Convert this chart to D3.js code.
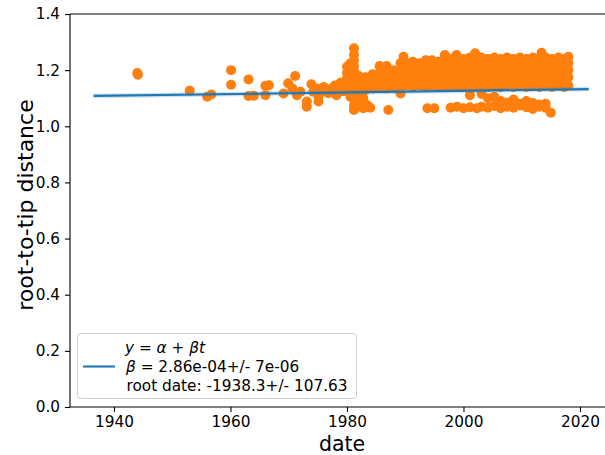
<!DOCTYPE html>
<html>
<head>
<meta charset="utf-8">
<script src="https://cdn.jsdelivr.net/npm/d3@7"></script>
<style>
  html, body { margin: 0; background: #fff; overflow: hidden; }
  svg { display: block; }
  text { font-family: "DejaVu Sans", sans-serif; fill: #000; }
</style>
</head>
<body>
<script>
// root-to-tip regression

// isolated tips before the 1980 burst  [date, distance]
var earlyTips = [
  [1944.0, 1.190], [1944.1, 1.184], [1953.0, 1.127], [1956.0, 1.105], [1956.7, 1.113],
  [1960.1, 1.200], [1960.1, 1.148], [1963.1, 1.167], [1963.1, 1.108], [1964.0, 1.109],
  [1966.0, 1.144], [1966.6, 1.146], [1966.0, 1.111], [1969.1, 1.117], [1969.9, 1.153],
  [1970.6, 1.135], [1971.1, 1.179], [1971.4, 1.111], [1972.0, 1.123], [1973.1, 1.070],
  [1973.1, 1.088], [1973.9, 1.150], [1974.2, 1.123], [1974.8, 1.135], [1975.1, 1.088],
  [1975.1, 1.105], [1975.6, 1.125], [1976.0, 1.140], [1976.3, 1.128], [1976.8, 1.118],
  [1977.0, 1.131], [1977.6, 1.136], [1977.9, 1.145], [1978.2, 1.111], [1978.6, 1.140],
  [1978.9, 1.155], [1979.2, 1.142], [1979.4, 1.125]
];

// tips sampled in columns  [date, [distances]]
var columnTips = [
  [1980.0, [1.130, 1.150, 1.170, 1.190, 1.212]],
  [1980.6, [1.105, 1.145, 1.224]],
  [1981.2, [1.058, 1.075, 1.095, 1.115, 1.135, 1.155, 1.175, 1.195, 1.215, 1.235, 1.255, 1.278]],
  [1981.8, [1.070, 1.090, 1.140, 1.160]],
  [1982.0, [1.135, 1.160, 1.180]],
  [1982.5, [1.115]],
  [1982.8, [1.064, 1.100]],
  [1983.2, [1.130, 1.150, 1.175]],
  [1983.5, [1.075]],
  [1984.0, [1.066]],
  [1984.4, [1.135, 1.160, 1.185]],
  [1985.6, [1.140, 1.165, 1.190, 1.215]],
  [1986.8, [1.135, 1.160, 1.185, 1.215]],
  [1987.1, [1.058]],
  [1988.0, [1.140, 1.165, 1.190, 1.200]],
  [1989.2, [1.117, 1.140, 1.170, 1.195, 1.225]],
  [1989.7, [1.248]],
  [1990.2, [1.145, 1.170, 1.190, 1.205, 1.224]],
  [1991.3, [1.140, 1.165, 1.188, 1.210, 1.230]],
  [1992.4, [1.145, 1.175, 1.200, 1.225]],
  [1993.5, [1.140, 1.163, 1.190, 1.212, 1.235]],
  [1993.8, [1.064]],
  [1994.6, [1.145, 1.170, 1.190, 1.210, 1.235]],
  [1995.0, [1.064]],
  [1995.7, [1.140, 1.160, 1.180, 1.205, 1.230]],
  [1996.8, [1.145, 1.170, 1.195, 1.225, 1.254]],
  [1997.8, [1.066]],
  [1997.9, [1.140, 1.165, 1.190, 1.215, 1.240]],
  [1998.8, [1.145, 1.175, 1.200, 1.230, 1.254]],
  [1998.9, [1.070]],
  [2000.0, [1.064, 1.140, 1.165, 1.190, 1.215, 1.240]],
  [2001.1, [1.068, 1.111, 1.145, 1.170, 1.195, 1.220, 1.245]],
  [2002.0, [1.140, 1.165, 1.190, 1.215, 1.240, 1.260]],
  [2002.3, [1.064]],
  [2003.1, [1.070, 1.115, 1.145, 1.170, 1.195, 1.220, 1.245]],
  [2004.2, [1.066, 1.100, 1.140, 1.165, 1.190, 1.215, 1.240]],
  [2005.3, [1.072, 1.105, 1.145, 1.170, 1.195, 1.220, 1.245]],
  [2006.4, [1.064, 1.090, 1.140, 1.165, 1.190, 1.215, 1.240]],
  [2007.5, [1.070, 1.085, 1.145, 1.170, 1.195, 1.220, 1.245]],
  [2008.6, [1.066, 1.095, 1.140, 1.165, 1.190, 1.215, 1.240]],
  [2009.7, [1.074, 1.080, 1.145, 1.170, 1.195, 1.220, 1.245]],
  [2010.8, [1.068, 1.090, 1.140, 1.165, 1.190, 1.215, 1.240]],
  [2011.9, [1.062, 1.083, 1.145, 1.170, 1.195, 1.220, 1.245]],
  [2013.0, [1.070, 1.078, 1.140, 1.165, 1.190, 1.215, 1.240]],
  [2013.4, [1.262]],
  [2014.1, [1.066, 1.080, 1.145, 1.170, 1.195, 1.220, 1.245]],
  [2015.0, [1.048]],
  [2015.2, [1.140, 1.165, 1.190, 1.215, 1.240]],
  [2016.3, [1.145, 1.170, 1.195, 1.220, 1.245]],
  [2017.3, [1.140, 1.165, 1.190, 1.215, 1.240]],
  [2018.0, [1.145, 1.175, 1.200, 1.225, 1.248]]
];

// regression fit
var slope = 2.86e-4;
var rootDate = -1938.3;
var fitDates = [1936.5, 2021.5];
var bandHalf = 0.008;

var xTicks = [1940, 1960, 1980, 2000, 2020];
var yTicks = [0, 0.2, 0.4, 0.6, 0.8, 1.0, 1.2, 1.4];

var legendLines = ['\u03b2 = 2.86e-04+/- 7e-06', 'root date: -1938.3+/- 107.63'];

var orange = '#ff7f0e', blue = '#1f77b4';
var width = 605, height = 455;
var axLeft = 70, axRight = 614, axTop = 14, axBottom = 407;

var tips = earlyTips.slice();
columnTips.forEach(function(c) {
  c[1].forEach(function(d) { tips.push([c[0], d]); });
});

var x = d3.scaleLinear().domain([1932.45, 2025.84]).range([axLeft, axRight]);
var y = d3.scaleLinear().domain([0, 1.4]).range([axBottom, axTop]);

var svg = d3.select('body').append('svg')
  .attr('width', width)
  .attr('height', height);

// scatter
svg.append('g').selectAll('circle')
  .data(tips)
  .enter()
  .append('circle')
  .attr('cx', function(d) { return x(d[0]); })
  .attr('cy', function(d) { return y(d[1]); })
  .attr('r', 5)
  .attr('fill', orange);

// fit band + line
function fit(t) { return slope * (t - rootDate); }
var band = d3.area()
  .x(function(t) { return x(t); })
  .y0(function(t) { return y(fit(t) - bandHalf); })
  .y1(function(t) { return y(fit(t) + bandHalf); });
svg.append('path')
  .attr('d', band(fitDates))
  .attr('fill', blue)
  .attr('fill-opacity', 0.22);

var line = d3.line()
  .x(function(t) { return x(t); })
  .y(function(t) { return y(fit(t)); });
svg.append('path')
  .attr('d', line(fitDates))
  .attr('fill', 'none')
  .attr('stroke', blue)
  .attr('stroke-width', 2.1);

// axes
var xAxis = svg.append('g')
  .attr('transform', 'translate(0,' + axBottom + ')')
  .call(d3.axisBottom(x).tickValues(xTicks).tickFormat(d3.format('d')).tickSize(5).tickPadding(4));
var yAxis = svg.append('g')
  .attr('transform', 'translate(' + axLeft + ',0)')
  .call(d3.axisLeft(y).tickValues(yTicks).tickFormat(d3.format('.1f')).tickSize(5).tickPadding(5));

[xAxis, yAxis].forEach(function(a) {
  a.select('.domain').remove();
  a.selectAll('line').attr('stroke', '#000').attr('stroke-width', 1.1);
  a.selectAll('text').attr('font-size', 15.3).attr('font-family', 'DejaVu Sans').attr('fill', '#000');
});

// spines
function spine(x1, y1, x2, y2) {
  svg.append('line').attr('x1', x1).attr('y1', y1).attr('x2', x2).attr('y2', y2)
    .attr('stroke', '#000').attr('stroke-width', 1.1);
}
spine(axLeft, axTop, axLeft, axBottom);
spine(axLeft, axBottom, axRight, axBottom);
spine(axLeft, axTop, axRight, axTop);
spine(axRight, axTop, axRight, axBottom);

// axis labels
svg.append('text')
  .attr('x', (axLeft + axRight) / 2)
  .attr('y', 451)
  .attr('text-anchor', 'middle')
  .attr('font-size', 20.5)
  .text('date');
svg.append('text')
  .attr('transform', 'translate(33,205) rotate(-90)')
  .attr('text-anchor', 'middle')
  .attr('font-size', 22)
  .text('root-to-tip distance');

// legend
var lg = svg.append('g');
lg.append('rect')
  .attr('x', 77.5).attr('y', 333.5)
  .attr('width', 279).attr('height', 65)
  .attr('rx', 3)
  .attr('fill', '#fff').attr('fill-opacity', 0.8)
  .attr('stroke', '#d0d0d0');
lg.append('line')
  .attr('x1', 83).attr('x2', 115).attr('y1', 366.5).attr('y2', 366.5)
  .attr('stroke', blue).attr('stroke-width', 2.1);

var eq = lg.append('text').attr('x', 125).attr('y', 353).attr('font-size', 15.3);
eq.append('tspan').attr('font-style', 'italic').text('y');
eq.append('tspan').text(' = ');
eq.append('tspan').attr('font-style', 'italic').text('\u03b1');
eq.append('tspan').text(' + ');
eq.append('tspan').attr('font-style', 'italic').text('\u03b2t');

var b = lg.append('text').attr('x', 126).attr('y', 372).attr('font-size', 15.3);
b.append('tspan').attr('font-style', 'italic').text('\u03b2');
b.append('tspan').text(legendLines[0].slice(1));

lg.append('text').attr('x', 126.5).attr('y', 390.5).attr('font-size', 15.3).text(legendLines[1]);
</script>
</body>
</html>
